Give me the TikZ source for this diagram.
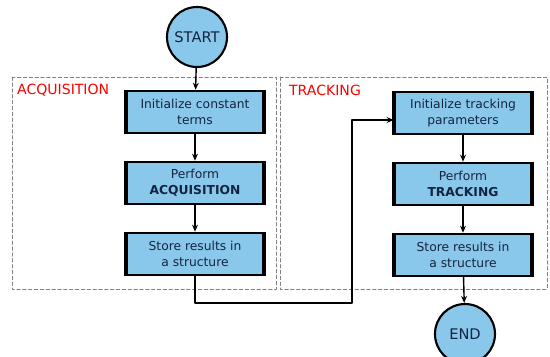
\documentclass[tikz,border=0pt]{standalone}
\usepackage{fontspec}
\setmainfont{DejaVu Sans}
\usetikzlibrary{arrows.meta, calc, positioning}
\definecolor{boxblue}{HTML}{89C8EB}
\definecolor{boxtext}{HTML}{142440}
\tikzset{
  >={Stealth[length=6pt, width=5pt]},
  every picture/.style={line cap=round, line join=round},
  flow/.style={->, line width=1.2pt},
  stepbox/.style={draw, fill=boxblue, line width=1.6pt, text=boxtext, minimum width=4.1cm,
    minimum height=1.28cm, align=center, inner sep=2pt, font=\fontsize{10.5}{13.5}\selectfont},
  term/.style={circle, draw, fill=boxblue, line width=1.8pt, text=boxtext, minimum size=1.8cm,
    inner sep=0pt, font=\fontsize{12.5}{14}\selectfont},
  % dashed frame round each stage
  stage/.style={draw=gray, densely dashed, line width=0.6pt},
  stagelabel/.style={red, anchor=west, font=\fontsize{12}{14}\selectfont},
}

\begin{document}
\begin{tikzpicture}[x=0.03cm, y=-0.03cm]
  \useasboundingbox (0,0) rectangle (550,356);
  \draw[stage] (12,77) rectangle (276,289);
  \draw[stage] (280,77) rectangle (547,289);
  \node[stagelabel] (acqlabel) at (13,90) {ACQUISITION};
  \node[stagelabel] (trklabel) at (285,90) {TRACKING};
  \node[term] (start) at (197,37) {START};
  \node[stepbox] (acq1) at (195,112) {Initialize constant\\terms};
  \node[stepbox] (acq2) at (195,183) {Perform\\\textbf{ACQUISITION}};
  \node[stepbox] (acq3) at (195,254) {Store results in\\a structure};
  \node[stepbox] (trk1) at (463,113) {Initialize tracking\\parameters};
  \node[stepbox] (trk2) at (463,184) {Perform\\\textbf{TRACKING}};
  \node[stepbox] (trk3) at (463,255) {Store results in\\a structure};
  \node[term] (end) at (465,334) {END};
  \foreach \b in {acq1,acq2,acq3,trk1,trk2,trk3}
    \draw[line width=3.2pt, line cap=butt] (\b.north west) -- (\b.south west) (\b.north east) -- (\b.south east);
  \coordinate (turn) at (352,303);
  \draw[flow] (start) -- (acq1);
  \draw[flow] (acq1) -- (acq2);
  \draw[flow] (acq2) -- (acq3);
  \draw[flow] (acq3.south) |- (turn) |- ($(trk1.west)+(0,7)$);
  \draw[flow] (trk1) -- (trk2);
  \draw[flow] (trk2) -- (trk3);
  \draw[flow] (trk3) -- (end);
\end{tikzpicture}
\end{document}
